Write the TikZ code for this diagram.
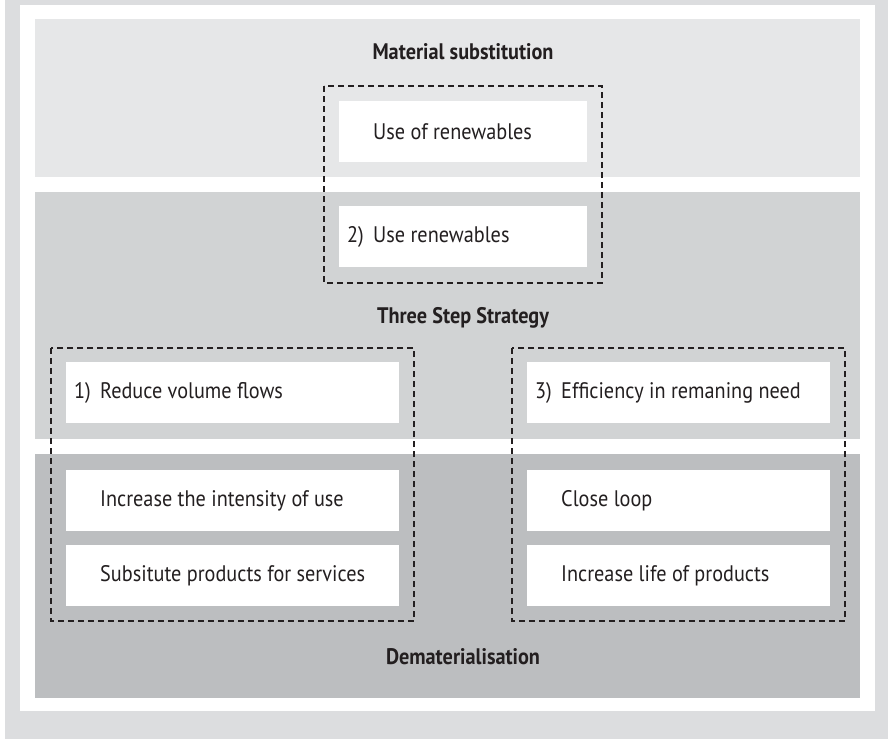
\documentclass[tikz,border=0pt]{standalone}
\usepackage{fontspec}
\setmainfont[FakeStretch=0.9]{PT Sans}
\begin{document}
\begin{tikzpicture}[x=1pt,y=-1pt,
  txt/.style={text=inkc, font=\fontsize{22.5}{26}\selectfont},
  title/.style={text=inkc, font=\bfseries\fontsize{22.5}{26}\selectfont, anchor=center, inner sep=0},
  card/.style={txt, fill=white, anchor=north west, inner xsep=8pt, inner ysep=0pt,
               minimum height=61pt},
  group/.style={draw=inkc, line width=1.1pt, dash pattern=on 6pt off 4pt}
]
\definecolor{inkc}{HTML}{231F20}
\definecolor{outerc}{HTML}{DCDDDF}
\definecolor{topc}{HTML}{E6E7E8}
\definecolor{midc}{HTML}{D1D3D4}
\definecolor{lowc}{HTML}{BCBEC0}
% a fixed-width line: step number in a 26pt slot, then the label
\newcommand{\cardline}[3]{\makebox[#1][l]{\makebox[26pt][l]{#2}#3}}

\useasboundingbox (0,0) rectangle (888,739);

% frame
\fill[outerc] (5,0) rectangle (888,739);
\fill[white] (20,5) rectangle (875,711);

% three horizontal bands
\fill[topc] (35,19) rectangle (860,177);
\fill[midc] (35,192) rectangle (860,439);
\fill[lowc] (35,454) rectangle (860,698);

% band titles
\node[title] (tmat) at (463,52) {Material substitution};
\node[title] (tthree) at (463,318) {Three Step Strategy};
\node[title] (tdemat) at (463,657) {Dematerialisation};

% centre column
\node[card] (useof) at (339,101) {\cardline{232pt}{}{Use of renewables}};
\node[card] (step2) at (339,206) {\cardline{232pt}{2)}{Use renewables}};

% left column
\node[card] (step1) at (66,362) {\cardline{317pt}{1)}{Reduce volume flows}};
\node[card] (intens) at (66,470) {\cardline{317pt}{}{Increase the intensity of use}};
\node[card] (subst) at (66,545) {\cardline{317pt}{}{Subsitute products for services}};

% right column
\node[card] (step3) at (527,362) {\cardline{287pt}{3)}{Efficiency in remaning need}};
\node[card] (loop) at (527,470) {\cardline{287pt}{}{Close loop}};
\node[card] (life) at (527,545) {\cardline{287pt}{}{Increase life of products}};

% dashed groupings
\draw[group] (324,86) rectangle (602,283);
\draw[group] (51,348) rectangle (414,621);
\draw[group] (512,348) rectangle (845,621);
\end{tikzpicture}
\end{document}
